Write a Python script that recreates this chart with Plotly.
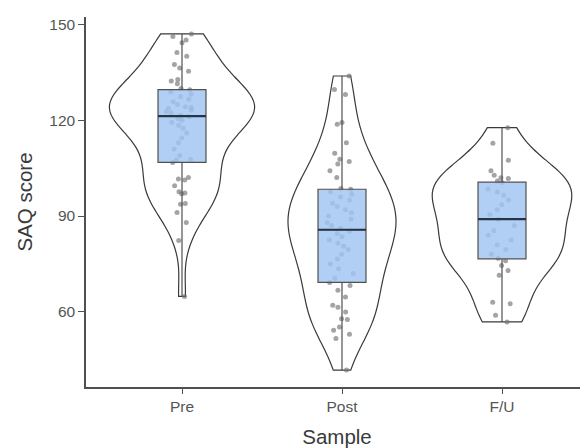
import numpy as np
import plotly.graph_objects as go

categories = ["Pre", "Post", "F/U"]

pre_scores = [147.1, 146.3, 145.2, 144.3, 141.3, 140.1, 137.5, 136.4, 135.4, 132.8, 132.3, 131.5,
              107.6, 109, 111, 113, 114.5, 116, 117.5, 118.5, 119.3, 120, 120.6, 121.1, 121.6,
              122.4, 122.8, 123.2, 123.7, 124, 124.3, 125, 125.8, 126.6, 127.4, 128.2, 129, 129.6, 130,
              107.8, 106.8, 102.1, 101.6, 101.3, 99.5, 97.6, 97.2, 97, 93.9, 93.7, 91.1, 88, 82.3, 64.8]

post_scores = [133.9, 129.7, 128.1, 119.3, 118.8, 113, 109.7, 107.8, 107.1, 106.3, 104.2, 102.1, 98.6, 98.4, 97.6,
               69.2, 70.5, 72, 73.5, 75, 76.5, 78, 79.5, 80.5, 81.5, 82.5, 83.5, 84.5, 85.2, 86.2,
               87, 88, 89, 90, 91, 92, 93, 94, 95, 96, 96.8,
               68.2, 66.7, 64.6, 62, 61.4, 59.9, 57.8, 57.6, 55.2, 54.2, 52.9, 51.6, 41.7]

fu_scores = [117.7, 112.8, 107.5, 104.2, 102.8, 102, 101.8,
             76.8, 78, 79.5, 81, 82.5, 84, 85.5, 87, 89, 90.5, 92, 93.5, 95, 96.5, 97.5, 98.5, 100.5, 101,
             76, 74.5, 72.9, 71.4, 63, 62.5, 58.9, 56.8]

groups = [pre_scores, post_scores, fu_scores]
violin_widths = [0.906, 0.675, 0.87]

y_ticks = [60, 90, 120, 150]


def nrd0(v):
    a = np.asarray(v, dtype=float)
    q75, q25 = np.percentile(a, [75, 25])
    s = min(a.std(ddof=1), (q75 - q25) / 1.34)
    return 0.9 * s * len(a) ** (-0.2)


fig = go.Figure()

for cat, vals, w in zip(categories, groups, violin_widths):
    fig.add_trace(go.Violin(
        x=[cat] * len(vals), y=vals, name=cat,
        width=w, scalemode="width", spanmode="hard",
        bandwidth=nrd0(vals),
        fillcolor="white", line=dict(color="#3a3a3a", width=1.2),
        points=False, box_visible=False, meanline_visible=False,
        hoverinfo="skip", showlegend=False,
    ))

for cat, vals in zip(categories, groups):
    # jittered points (drawn below the semi-transparent box)
    fig.add_trace(go.Box(
        x=[cat] * len(vals), y=vals, name=cat,
        width=0.3, boxpoints="all", jitter=0.7, pointpos=0,
        fillcolor="rgba(0,0,0,0)", line=dict(color="rgba(0,0,0,0)", width=0),
        marker=dict(color="rgba(115,115,115,0.65)", size=5),
        showlegend=False,
    ))

for cat, vals in zip(categories, groups):
    fig.add_trace(go.Box(
        x=[cat] * len(vals), y=vals, name=cat,
        width=0.3, boxpoints=False,
        fillcolor="rgba(160,196,242,0.82)", line=dict(color="#505050", width=1.2),
        whiskerwidth=0, showlegend=False,
    ))

# thicker median line, from each group's median
for cat, vals in zip(categories, groups):
    med = float(np.median(vals))
    fig.add_trace(go.Box(
        x=[cat], q1=[med], median=[med], q3=[med], lowerfence=[med], upperfence=[med],
        name=cat, width=0.3, fillcolor="rgba(0,0,0,0)",
        line=dict(color="#263445", width=2.2), whiskerwidth=0,
        showlegend=False, hoverinfo="skip",
    ))

fig.update_layout(
    width=580, height=440,
    margin=dict(l=78, r=0, t=9, b=61),
    paper_bgcolor="white", plot_bgcolor="white",
    boxmode="overlay", violinmode="overlay",
    font=dict(family="Liberation Sans, Arial, sans-serif", color="#333333"),
    xaxis=dict(
        range=[-0.6, 2.5375], showgrid=False, zeroline=False,
        showline=True, linecolor="#505050", linewidth=1.5,
        ticks="outside", ticklen=5, tickcolor="#505050", tickwidth=1.3,
        tickfont=dict(size=15.5, color="#555555"),
        title=dict(text="Sample", font=dict(size=20.5, color="#3a3a3a"), standoff=18),
    ),
    yaxis=dict(
        range=[36.4, 152.4], showgrid=False, zeroline=False,
        showline=True, linecolor="#505050", linewidth=1.5,
        ticks="outside", ticklen=6, tickcolor="#505050", tickwidth=1.3,
        tickvals=y_ticks, tickfont=dict(size=15.5, color="#555555"),
        title=dict(text="SAQ score", font=dict(size=20.5, color="#3a3a3a"), standoff=11),
    ),
)

fig.write_html("out.html")
